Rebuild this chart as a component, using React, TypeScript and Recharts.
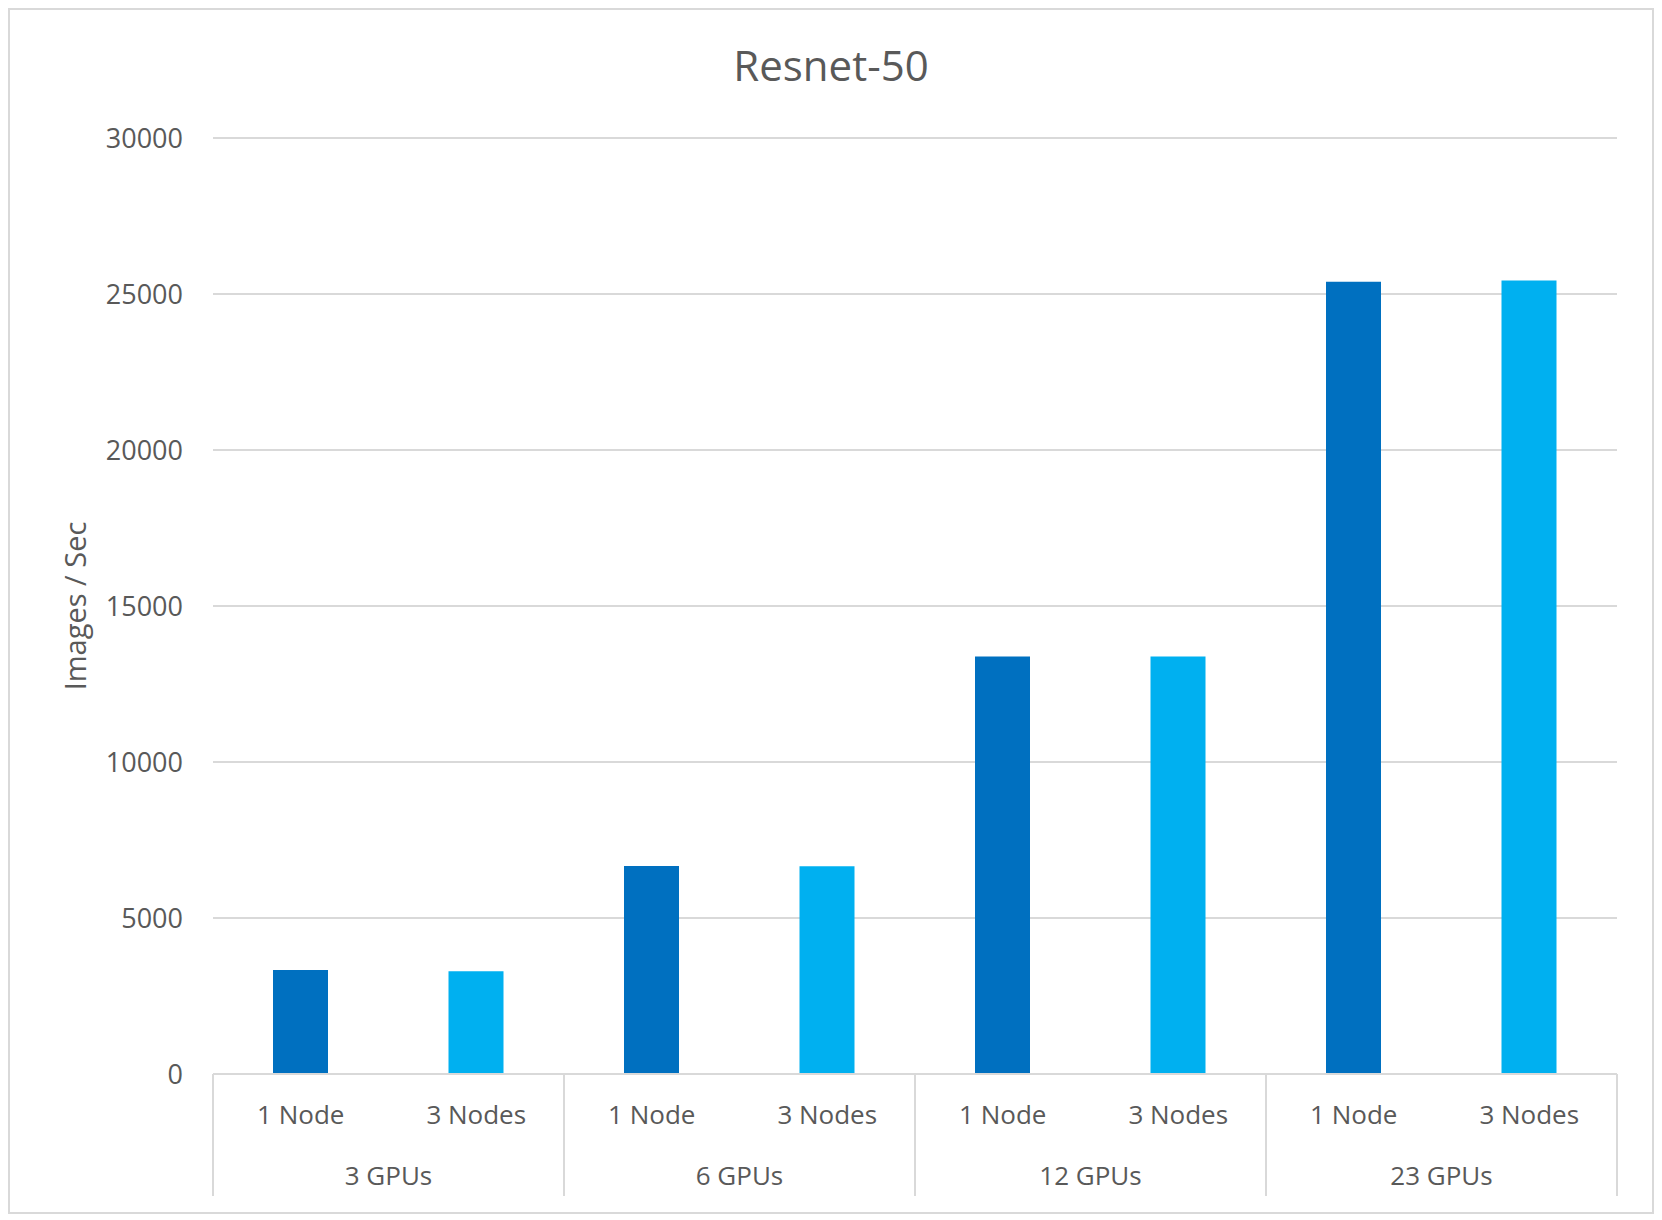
import { Bar, BarChart, CartesianGrid, Cell, XAxis, YAxis } from "recharts";

const gpuGroups = ["3 GPUs", "6 GPUs", "12 GPUs", "23 GPUs"];
const nodeLabels = ["1 Node", "3 Nodes"];
const oneNodeValues = [3330, 6670, 13380, 25390];
const threeNodeValues = [3290, 6660, 13380, 25430];
const yTicks = [0, 5000, 10000, 15000, 20000, 25000, 30000];
const nodeColors = ["#0070C0", "#00B0F0"];

const rows = gpuGroups.flatMap((group, i) => [
  { group, node: nodeLabels[0], value: oneNodeValues[i], kind: 0 },
  { group, node: nodeLabels[1], value: threeNodeValues[i], kind: 1 }
]);

const textColor = "#595959";
const lineColor = "#d9d9d9";
const fontFamily = "'Open Sans', sans-serif";

const NODE_AXIS_HEIGHT = 62;
const GROUP_TICK_MARGIN = 31;

function GroupTick(props: any) {
  const { x, y, payload } = props;
  const half = payload?.offset ?? 175.5;
  const top = y - GROUP_TICK_MARGIN - NODE_AXIS_HEIGHT;
  const bottom = y - GROUP_TICK_MARGIN + 60;
  return (
    <g>
      <line x1={x - half} x2={x - half} y1={top} y2={bottom} stroke={lineColor} strokeWidth={2} />
      <line x1={x + half} x2={x + half} y1={top} y2={bottom} stroke={lineColor} strokeWidth={2} />
      <text
        x={x}
        y={y}
        dy="0.71em"
        textAnchor="middle"
        fill={textColor}
        fontSize={26}
        fontFamily={fontFamily}
      >
        {payload.value}
      </text>
    </g>
  );
}

function YLabel(props: any) {
  const { viewBox } = props;
  const cx = viewBox.x + 64;
  const cy = viewBox.y + viewBox.height / 2;
  return (
    <text
      x={cx}
      y={cy}
      transform={`rotate(-90, ${cx}, ${cy})`}
      textAnchor="middle"
      dominantBaseline="central"
      fill={textColor}
      fontSize={29}
      fontFamily={fontFamily}
    >
      Images / Sec
    </text>
  );
}

export default function App() {
  return (
    <div
      style={{
        position: "relative",
        width: 1646,
        height: 1206,
        border: `2px solid ${lineColor}`,
        boxSizing: "border-box",
        background: "#fff",
        fontFamily
      }}
    >
      <div
        style={{
          position: "absolute",
          top: 34,
          left: 0,
          width: "100%",
          textAlign: "center",
          fontSize: 42,
          lineHeight: 1,
          color: textColor
        }}
      >
        Resnet-50
      </div>
      <BarChart
        width={1642}
        height={1202}
        data={rows}
        margin={{ top: 128, right: 35, left: 0, bottom: 16 }}
      >
        <CartesianGrid stroke={lineColor} strokeWidth={2} vertical={false} />
        <YAxis
          width={203}
          domain={[0, 30000]}
          ticks={yTicks}
          axisLine={false}
          tickLine={false}
          tickSize={0}
          tickMargin={30}
          tick={{ fill: textColor, fontSize: 27, fontFamily }}
          label={<YLabel />}
        />
        <XAxis
          dataKey="node"
          height={NODE_AXIS_HEIGHT}
          interval={0}
          axisLine={{ stroke: lineColor, strokeWidth: 2 }}
          tickLine={false}
          tickSize={0}
          tickMargin={32}
          tick={{ fill: textColor, fontSize: 26, fontFamily }}
        />
        <XAxis
          xAxisId="group"
          dataKey="group"
          allowDuplicatedCategory={false}
          height={60}
          interval={0}
          axisLine={false}
          tickLine={false}
          tickSize={0}
          tickMargin={GROUP_TICK_MARGIN}
          tick={<GroupTick />}
        />
        <Bar dataKey="value" barSize={55} isAnimationActive={false}>
          {rows.map((row, i) => (
            <Cell key={i} fill={nodeColors[row.kind]} />
          ))}
        </Bar>
      </BarChart>
    </div>
  );
}
